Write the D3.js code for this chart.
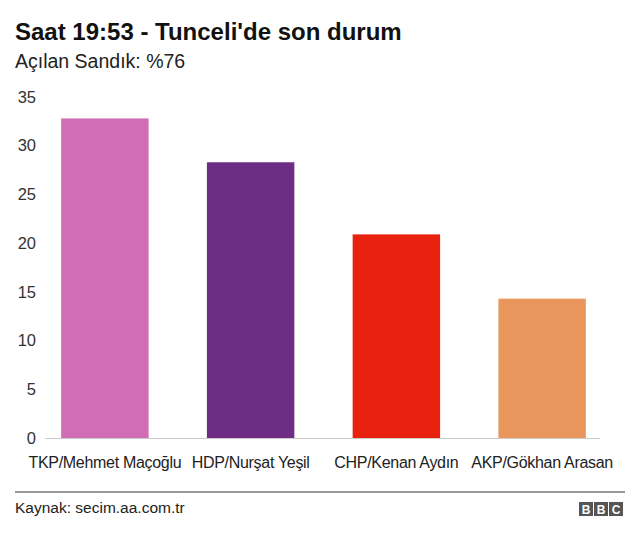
<!DOCTYPE html>
<html>
<head>
<meta charset="utf-8">
<script src="https://cdn.jsdelivr.net/npm/d3@7"></script>
<style>
  body { margin: 0; background: #fff; }
  svg { font-family: "Liberation Sans", Arial, Helvetica, sans-serif; }
</style>
</head>
<body>
<svg id="chart" width="640" height="537"></svg>
<script>
// Chart data
const candidates = ['TKP/Mehmet Maçoğlu', 'HDP/Nurşat Yeşil', 'CHP/Kenan Aydın', 'AKP/Gökhan Arasan'];
const votes = [32.8, 28.3, 20.9, 14.3];
const barColors = ['#d06db5', '#6e2d84', '#e8220f', '#ea975d'];
const yTicks = [0, 5, 10, 15, 20, 25, 30, 35];

const svg = d3.select('#chart');

const x = d3.scaleBand()
  .domain(candidates)
  .range([32, 615])
  .paddingInner(0.4)
  .paddingOuter(0.2);

const y = d3.scaleLinear()
  .domain([0, 35])
  .range([438, 97]);

// Title block
svg.append('text')
  .attr('x', 15).attr('y', 40)
  .attr('font-size', '24px').attr('font-weight', 'bold')
  .attr('fill', '#111')
  .text("Saat 19:53 - Tunceli'de son durum");

svg.append('text')
  .attr('x', 15).attr('y', 68)
  .attr('font-size', '19.5px')
  .attr('fill', '#222')
  .text('Açılan Sandık: %76');

// Y axis (labels only)
const yAxis = svg.append('g')
  .attr('transform', 'translate(36,0)')
  .call(d3.axisLeft(y).tickValues(yTicks).tickSize(0).tickPadding(0));
yAxis.select('.domain').remove();
yAxis.selectAll('text')
  .attr('font-size', '16.5px')
  .attr('fill', '#333')
  .attr('font-family', '"Liberation Sans", Arial, sans-serif');

// Bars
svg.selectAll('rect.bar')
  .data(candidates)
  .join('rect')
  .attr('class', 'bar')
  .attr('x', d => x(d))
  .attr('y', (d, i) => y(votes[i]))
  .attr('width', x.bandwidth())
  .attr('height', (d, i) => y(0) - y(votes[i]))
  .attr('fill', (d, i) => barColors[i]);

// Baseline
svg.append('line')
  .attr('x1', 45).attr('x2', 600)
  .attr('y1', y(0) + 0.5).attr('y2', y(0) + 0.5)
  .attr('stroke', '#ccc')
  .attr('stroke-width', 1);

// X axis labels
const xAxis = svg.append('g')
  .attr('transform', `translate(0,${y(0)})`)
  .call(d3.axisBottom(x).tickSize(0).tickPadding(19));
xAxis.select('.domain').remove();
xAxis.selectAll('text')
  .attr('font-size', '16px')
  .attr('letter-spacing', '-0.3px')
  .attr('fill', '#222')
  .attr('font-family', '"Liberation Sans", Arial, sans-serif');

// Footer
svg.append('line')
  .attr('x1', 15).attr('x2', 625)
  .attr('y1', 492).attr('y2', 492)
  .attr('stroke', '#333')
  .attr('stroke-width', 1);

svg.append('text')
  .attr('x', 15).attr('y', 513)
  .attr('font-size', '15.5px')
  .attr('fill', '#222')
  .text('Kaynak: secim.aa.com.tr');

// BBC blocks
const bbc = svg.append('g').attr('transform', 'translate(579,502)');
['B', 'B', 'C'].forEach((ch, i) => {
  bbc.append('rect')
    .attr('x', i * 15).attr('y', 0)
    .attr('width', 14).attr('height', 14)
    .attr('fill', '#555');
  bbc.append('text')
    .attr('x', i * 15 + 7).attr('y', 11.5)
    .attr('text-anchor', 'middle')
    .attr('font-size', '12px').attr('font-weight', 'bold')
    .attr('fill', '#fff')
    .text(ch);
});
</script>
</body>
</html>
